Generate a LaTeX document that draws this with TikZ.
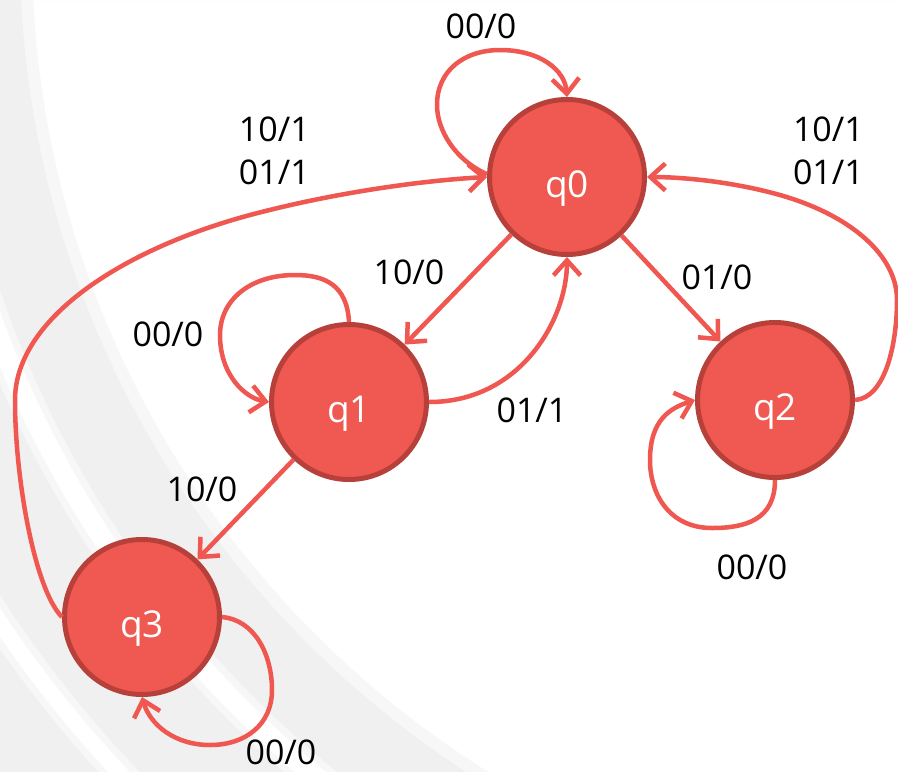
\documentclass[tikz,border=0pt]{standalone}
\usepackage{fontspec}
\setmainfont{Open Sans}
\usetikzlibrary{arrows.meta}

\definecolor{edgered}{HTML}{EF5750}
\definecolor{statefill}{HTML}{EF5951}
\definecolor{stateline}{HTML}{B8403A}
\definecolor{bggray}{HTML}{F0F0F0}

\begin{document}
\begin{tikzpicture}[x=1pt, y=-1pt,
  state/.style={circle, fill=statefill, draw=stateline, line width=5pt,
    minimum size=155pt, inner sep=0pt, text=white,
    font=\fontsize{37}{44}\selectfont, text height=40pt, text depth=0pt},
  trans/.style={draw=edgered, line width=4.5pt, line join=round,
    -{Straight Barb[length=15pt,width=27pt]},
    preaction={draw=black, opacity=0.10, transform canvas={yshift=-2pt}}},
  lbl/.style={inner sep=0pt, font=\fontsize{34}{43}\selectfont,
    text depth=0pt, anchor=south}]

\useasboundingbox (0,0) rectangle (898,772);

% slide background: pale grey swoosh with two white bands
\begin{scope}
  \clip (0,0) rectangle (898,772);
  \fill[white] (0,0) rectangle (898,772);
  \fill[bggray, even odd rule] (0,0) rectangle (898,772)
    (1000,-50) circle[radius=980pt];
  \draw[bggray, opacity=0.5, line width=12pt] (1000,-50) circle[radius=974pt];
  \draw[white, opacity=0.5, line width=34pt] (1000,-50) circle[radius=1073pt];
  \draw[white, line width=20pt] (1000,-50) circle[radius=1073pt];
  \draw[white, opacity=0.5, line width=30pt] (1000,-50) circle[radius=1205pt];
  \draw[white, line width=16pt] (1000,-50) circle[radius=1205pt];
\end{scope}

% states
\node[state] (q0) at (567,177) {q0};
\node[state] (q1) at (349,402) {q1};
\node[state] (q2) at (775,400) {q2};
\node[state] (q3) at (142,617) {q3};

% transitions between states
\draw[trans] (q0) -- (q1);
\draw[trans] (q0) -- (q2);
\draw[trans] (q1) -- (q3);
\draw[trans] (q1.east) .. controls (520,402) and (567,320) .. (q0.south);
\draw[trans] (q2.east) .. controls (885,398) and (897,345) .. (897,300)
  .. controls (897,255) and (850,215) .. (780,195)
  .. controls (730,181) and (680,177) .. (q0.east);
\draw[trans] (q3.west) .. controls (35,590) and (15,480) .. (15,400)
  .. controls (15,320) and (120,250) .. (250,215)
  .. controls (340,191) and (430,180) .. (q0.west);

% self loops
\draw[trans] (q0.178) .. controls (455,160) and (437,130) .. (437,105)
  .. controls (437,70) and (465,50) .. (500,50)
  .. controls (540,50) and (565,70) .. (q0.north);
\draw[trans] (q1.north) .. controls (347,285) and (325,275) .. (295,275)
  .. controls (250,275) and (220,300) .. (220,335)
  .. controls (220,375) and (245,398) .. (q1.west);
\draw[trans] (q2.south) .. controls (775,520) and (745,528) .. (712,528)
  .. controls (670,528) and (650,495) .. (650,460)
  .. controls (650,420) and (670,408) .. (q2.west);
\draw[trans] (q3.east) .. controls (255,620) and (272,655) .. (272,690)
  .. controls (272,725) and (245,745) .. (210,745)
  .. controls (175,745) and (150,725) .. (q3.south);

% transition labels
\node[lbl] (l00) at (481,39) {00/0};
\node[lbl, anchor=south east, align=right] (l30) at (310,185) {10/1\\01/1};
\node[lbl, anchor=south east, align=right] (l20) at (864,185) {10/1\\01/1};
\node[lbl] (l01) at (409,285) {10/0};
\node[lbl] (l11) at (168,347) {00/0};
\node[lbl] (l02) at (717,290) {01/0};
\node[lbl] (l10) at (532,423) {01/1};
\node[lbl] (l13) at (202,502) {10/0};
\node[lbl] (l33) at (281,765) {00/0};
\node[lbl] (l22) at (752,580) {00/0};
\end{tikzpicture}
\end{document}
